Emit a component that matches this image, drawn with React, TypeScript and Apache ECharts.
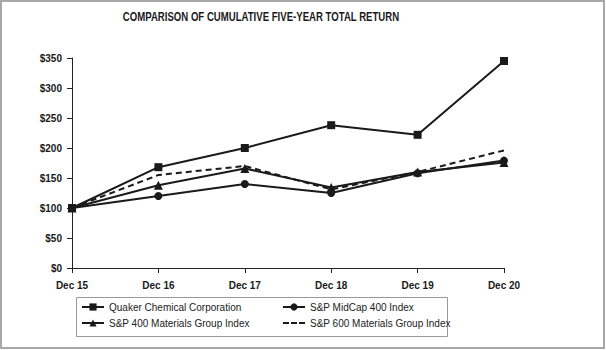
import React, { useEffect, useRef } from "react";
import * as echarts from "echarts";

const categories = ["Dec 15", "Dec 16", "Dec 17", "Dec 18", "Dec 19", "Dec 20"];
const quaker = [100, 168, 200, 238, 222, 345];
const midcap = [100, 120, 140, 125, 158, 179];
const mat400 = [100, 138, 166, 134, 160, 176];
const mat600 = [100, 155, 170, 131, 160, 196];
const yTicks = { min: 0, max: 350, interval: 50 };

const FONT = "'Liberation Sans', Arial, sans-serif";
const DASH_ICON = "path://M0,0M22,9M0,3.5h6v2h-6zM8,3.5h6v2h-6zM16,3.5h6v2h-6z";

export default function App() {
  const ref = useRef<HTMLDivElement>(null);
  useEffect(() => {
    if (!ref.current) return;
    const chart = echarts.init(ref.current, null, { renderer: "svg" });
    const lineBase = { color: "#1a1a1a", width: 2 };
    const legendText = { fontFamily: FONT, fontSize: 10, color: "#222" };
    chart.setOption({
      animation: false,
      backgroundColor: "#fff",
      grid: { left: 72, right: 102, top: 58, bottom: 82 },
      xAxis: {
        type: "category",
        data: categories,
        boundaryGap: false,
        axisLine: { lineStyle: { color: "#222", width: 1 } },
        axisTick: { show: true, alignWithLabel: true, length: 5, lineStyle: { color: "#222" } },
        axisLabel: { fontFamily: FONT, fontSize: 10, fontWeight: "bold", color: "#1a1a1a", margin: 12 },
      },
      yAxis: {
        type: "value",
        min: yTicks.min,
        max: yTicks.max,
        interval: yTicks.interval,
        splitLine: { show: false },
        axisLine: { show: true, lineStyle: { color: "#222", width: 1 } },
        axisTick: { show: true, length: 5, lineStyle: { color: "#222" } },
        axisLabel: {
          fontFamily: FONT,
          fontSize: 10,
          fontWeight: "bold",
          color: "#1a1a1a",
          margin: 10,
          formatter: (v: number) => "$" + v,
        },
      },
      legend: [
        {
          orient: "vertical",
          left: 81,
          top: 302,
          padding: 0,
          itemWidth: 22,
          itemHeight: 9,
          itemGap: 6,
          data: ["Quaker Chemical Corporation", "S&P 400 Materials Group Index"],
          textStyle: legendText,
        },
        {
          orient: "vertical",
          left: 282,
          top: 302,
          padding: 0,
          itemWidth: 22,
          itemHeight: 9,
          itemGap: 6,
          data: [
            "S&P MidCap 400 Index",
            { name: "S&P 600 Materials Group Index", icon: DASH_ICON },
          ],
          textStyle: legendText,
        },
      ],
      graphic: [
        {
          type: "rect",
          shape: { x: 1, y: 1, width: 603, height: 347 },
          style: { fill: "none", stroke: "#a8a8a8", lineWidth: 2 },
          silent: true,
        },
        {
          type: "rect",
          shape: { x: 76.5, y: 297.5, width: 371, height: 39 },
          style: { fill: "none", stroke: "#999", lineWidth: 1 },
          silent: true,
        },
        {
          type: "text",
          x: 261,
          y: 17,
          scaleX: 0.8,
          style: {
            text: "COMPARISON OF CUMULATIVE FIVE-YEAR TOTAL RETURN",
            fontFamily: FONT,
            fontSize: 12,
            fontWeight: "bold",
            fill: "#1a1a1a",
            align: "center",
            verticalAlign: "middle",
          },
          silent: true,
        },
      ],
      series: [
        {
          name: "Quaker Chemical Corporation",
          type: "line",
          data: quaker,
          symbol: "rect",
          symbolSize: 8,
          lineStyle: lineBase,
          itemStyle: { color: "#1a1a1a" },
          z: 5,
        },
        {
          name: "S&P MidCap 400 Index",
          type: "line",
          data: midcap,
          symbol: "circle",
          symbolSize: 8,
          lineStyle: lineBase,
          itemStyle: { color: "#1a1a1a" },
        },
        {
          name: "S&P 400 Materials Group Index",
          type: "line",
          data: mat400,
          symbol: "triangle",
          symbolSize: 9,
          lineStyle: lineBase,
          itemStyle: { color: "#1a1a1a" },
        },
        {
          name: "S&P 600 Materials Group Index",
          type: "line",
          data: mat600,
          symbol: "none",
          lineStyle: { color: "#1a1a1a", width: 2, type: [6, 4] },
          itemStyle: { color: "#1a1a1a" },
        },
      ],
    });
    return () => chart.dispose();
  }, []);
  return (
    <div
      ref={ref}
      style={{ width: 606, height: 350, position: "fixed", left: 0, top: 0 }}
    />
  );
}
